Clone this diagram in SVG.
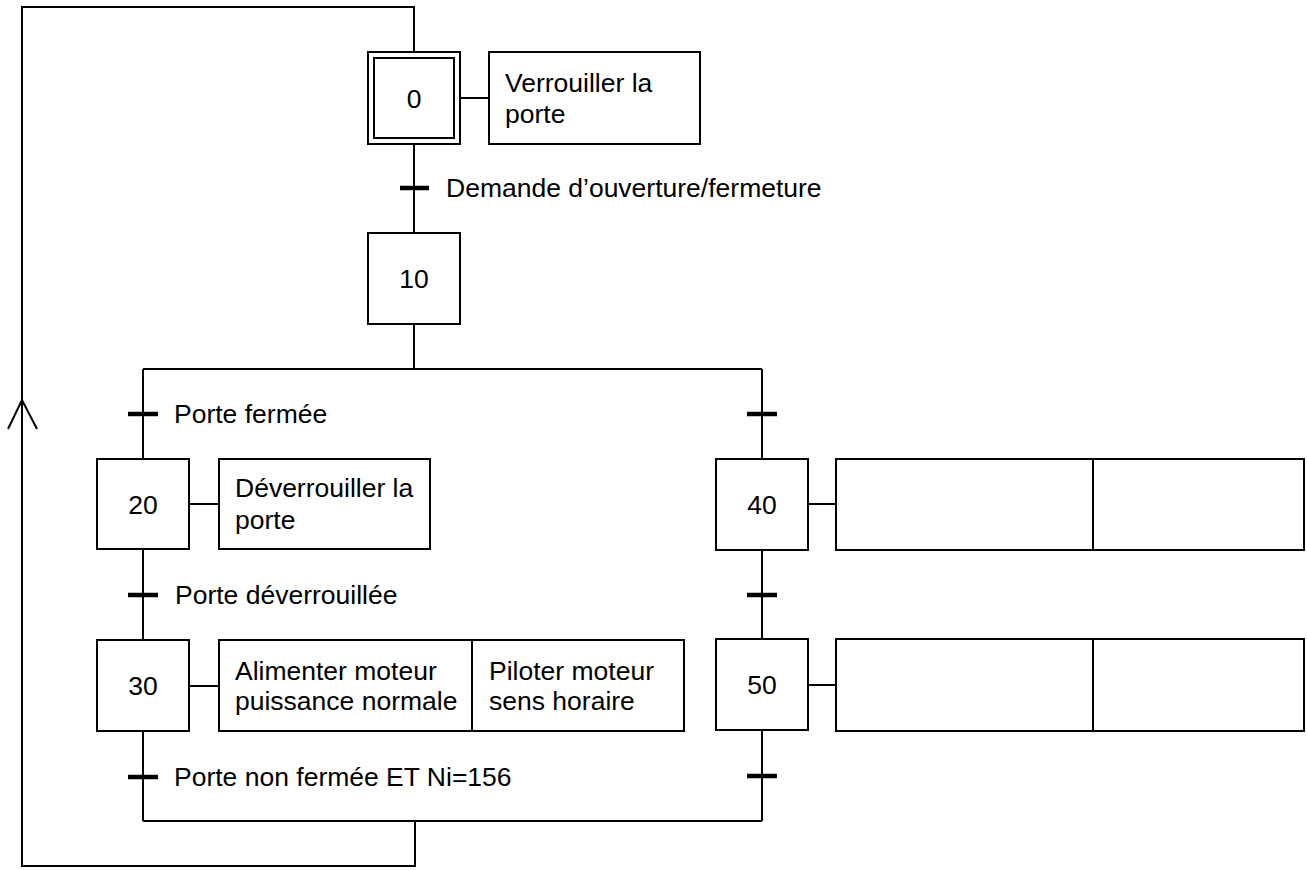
<svg xmlns="http://www.w3.org/2000/svg" width="1307" height="870" viewBox="0 0 1307 870">
<style>
.ln{fill:none;stroke:#000;stroke-width:2}
.bx{fill:#fff;stroke:#000;stroke-width:2}
.tk{stroke:#000;stroke-width:4.5}
text{font-family:"Liberation Sans",Arial,sans-serif;font-size:26.5px;fill:#000}
.c{text-anchor:middle}
</style>
<rect width="1307" height="870" fill="#fff"/>
<g id="connectors">
<polyline class="ln" points="414,52 414,7 22,7 22,866 415,866 415,821"/>
<polyline class="ln" points="8,429 22,400 37,429"/>
<line class="ln" x1="414" y1="144" x2="414" y2="233"/>
<line class="ln" x1="414" y1="324" x2="414" y2="369"/>
<line class="ln" x1="143" y1="369" x2="762" y2="369"/>
<line class="ln" x1="143" y1="369" x2="143" y2="459"/>
<line class="ln" x1="143" y1="549" x2="143" y2="640"/>
<line class="ln" x1="143" y1="731" x2="143" y2="821"/>
<line class="ln" x1="762" y1="369" x2="762" y2="459"/>
<line class="ln" x1="762" y1="550" x2="762" y2="639"/>
<line class="ln" x1="762" y1="730" x2="762" y2="821"/>
<line class="ln" x1="143" y1="821" x2="762" y2="821"/>
<line class="ln" x1="460" y1="98" x2="489" y2="98"/>
<line class="ln" x1="189" y1="504" x2="219" y2="504"/>
<line class="ln" x1="189" y1="686" x2="219" y2="686"/>
<line class="ln" x1="808" y1="504" x2="836" y2="504"/>
<line class="ln" x1="808" y1="685" x2="836" y2="685"/>
</g>
<g id="transitions">
<line class="tk" x1="400" y1="188" x2="429" y2="188"/>
<text x="446" y="197">Demande d’ouverture/fermeture</text>
<line class="tk" x1="128" y1="414" x2="158" y2="414"/>
<text x="174" y="423">Porte fermée</text>
<line class="tk" x1="128" y1="595" x2="158" y2="595"/>
<text x="175" y="604">Porte déverrouillée</text>
<line class="tk" x1="128" y1="777" x2="158" y2="777"/>
<text x="174" y="786">Porte non fermée ET Ni=156</text>
<line class="tk" x1="747" y1="414" x2="777" y2="414"/>
<line class="tk" x1="747" y1="595" x2="777" y2="595"/>
<line class="tk" x1="747" y1="776" x2="777" y2="776"/>
</g>
<g id="step0">
<rect class="bx" x="368" y="52" width="92" height="92"/>
<rect class="bx" x="374" y="58" width="80" height="80"/>
<text class="c" x="414" y="108">0</text>
</g>
<g id="action0">
<rect class="bx" x="489" y="52" width="211" height="92"/>
<text x="505" y="92">Verrouiller la</text>
<text x="505" y="123">porte</text>
</g>
<g id="step10">
<rect class="bx" x="368" y="233" width="92" height="91"/>
<text class="c" x="414" y="288">10</text>
</g>
<g id="step20">
<rect class="bx" x="97" y="459" width="92" height="90"/>
<text class="c" x="143" y="514">20</text>
</g>
<g id="action20">
<rect class="bx" x="219" y="459" width="211" height="90"/>
<text x="235" y="497">Déverrouiller la</text>
<text x="235" y="529">porte</text>
</g>
<g id="step30">
<rect class="bx" x="97" y="640" width="92" height="91"/>
<text class="c" x="143" y="695">30</text>
</g>
<g id="action30">
<rect class="bx" x="219" y="640" width="253" height="91"/>
<rect class="bx" x="472" y="640" width="212" height="91"/>
<text x="235" y="680">Alimenter moteur</text>
<text x="235" y="710">puissance normale</text>
<text x="489" y="680">Piloter moteur</text>
<text x="489" y="710">sens horaire</text>
</g>
<g id="step40">
<rect class="bx" x="716" y="459" width="92" height="91"/>
<text class="c" x="762" y="514">40</text>
</g>
<g id="action40">
<rect class="bx" x="836" y="459" width="257" height="91"/>
<rect class="bx" x="1093" y="459" width="211" height="91"/>
</g>
<g id="step50">
<rect class="bx" x="716" y="639" width="92" height="91"/>
<text class="c" x="762" y="694">50</text>
</g>
<g id="action50">
<rect class="bx" x="836" y="639" width="257" height="92"/>
<rect class="bx" x="1093" y="639" width="211" height="92"/>
</g>
</svg>
